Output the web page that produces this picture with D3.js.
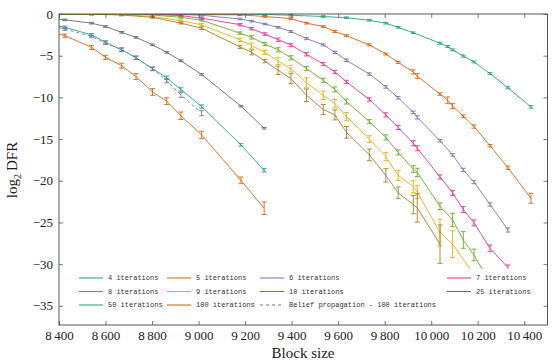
<!DOCTYPE html>
<html>
<head>
<meta charset="utf-8">
<script src="https://cdn.jsdelivr.net/npm/d3@7"></script>
<style>
body { margin: 0; background: #fff; }
</style>
</head>
<body>
<svg id="chart" width="552" height="363"></svg>
<script>
// block sizes used by the long-iteration runs (left group)
const xLeft = [8350, 8425, 8540, 8600, 8669, 8731, 8802, 8863, 8924, 9013, 9182, 9282];

const it4X = [8400, 9178, 9285, 9397, 9536, 9636, 9734, 9805, 9858, 9923, 10038, 10071, 10092, 10138, 10184, 10253, 10330, 10429];
const it4Y = [0, -0.02, -0.05, -0.15, -0.3, -0.45, -0.75, -1.1, -1.6, -2.25, -3.5, -3.9, -4.3, -5.05, -5.75, -7.15, -8.85, -11.15];
const it4Err = [null, 0.1, 0.1, 0.1, 0.1, 0.1, 0.1, 0.1, 0.1, 0.1, 0.12, 0.12, 0.12, 0.12, 0.12, 0.12, 0.12, 0.15];

const it5X = [8400, 9178, 9285, 9397, 9464, 9536, 9586, 9636, 9734, 9805, 9858, 9923, 9940, 10038, 10071, 10092, 10138, 10184, 10253, 10330, 10429];
const it5Y = [0, -0.1, -0.3, -0.55, -1.1, -1.5, -2.1, -2.6, -3.7, -4.8, -5.8, -6.95, -7.45, -9.6, -10.35, -11.05, -12.25, -13.5, -15.8, -18.45, -22.1];
const it5Err = [null, 0.1, 0.1, 0.1, 0.1, 0.1, 0.12, 0.12, 0.12, 0.12, 0.12, 0.25, 0.3, 0.15, 0.4, 0.3, 0.15, 0.2, 0.15, 0.2, 0.6];

const it6X = [8400, 8924, 9013, 9178, 9228, 9285, 9342, 9397, 9464, 9536, 9586, 9636, 9734, 9805, 9858, 9923, 9940, 10038, 10092, 10138, 10184, 10253, 10330];
const it6Y = [0, -0.05, -0.15, -0.6, -0.85, -1.2, -1.6, -2.1, -2.95, -3.7, -4.6, -5.55, -7.2, -8.75, -10.05, -11.8, -12.4, -15.2, -16.9, -18.7, -20.15, -22.85, -25.9];
const it6Err = [null, 0.1, 0.1, 0.1, 0.1, 0.1, 0.1, 0.12, 0.12, 0.12, 0.15, 0.15, 0.15, 0.15, 0.15, 0.15, 0.2, 0.15, 0.15, 0.2, 0.2, 0.2, 0.25];

const it7X = [8400, 8802, 8924, 9013, 9178, 9228, 9285, 9342, 9397, 9464, 9536, 9586, 9636, 9734, 9805, 9858, 9923, 9940, 10038, 10092, 10138, 10184, 10253, 10330];
const it7Y = [0, -0.05, -0.2, -0.5, -1.28, -1.76, -2.4, -3.08, -3.72, -4.83, -6.0, -6.95, -8.15, -10.25, -12.1, -13.6, -15.5, -16.1, -19.55, -21.45, -23.45, -25.05, -28.1, -30.4];
const it7Err = [null, 0.1, 0.1, 0.1, 0.15, 0.15, 0.15, 0.2, 0.2, 0.2, 0.2, 0.2, 0.2, 0.2, 0.25, 0.25, 0.3, 0.3, 0.25, 0.3, 0.35, 0.35, 0.4, 0.3];

const it8X = [8400, 8669, 8802, 8924, 9013, 9178, 9228, 9285, 9342, 9397, 9464, 9536, 9586, 9636, 9734, 9805, 9858, 9923, 9940, 10038, 10092, 10138, 10184, 10240];
const it8Y = [0, -0.02, -0.12, -0.4, -0.75, -2.3, -2.8, -3.6, -4.3, -5.25, -6.55, -7.95, -9.05, -10.5, -12.9, -14.8, -16.6, -18.6, -19.0, -23.05, -24.7, -27.1, -28.9, -31.6];
const it8Err = [null, 0.1, 0.1, 0.1, 0.1, 0.15, 0.2, 0.2, 0.25, 0.25, 0.25, 0.25, 0.3, 0.3, 0.25, 0.3, 0.3, 0.4, 0.5, 0.4, 0.8, 1.0, 0.7, null];

const it9X = [8400, 8540, 8669, 8802, 8924, 9013, 9178, 9228, 9285, 9342, 9397, 9464, 9536, 9586, 9636, 9734, 9805, 9858, 9923, 9940, 10038, 10092, 10190];
const it9Y = [0, -0.02, -0.08, -0.3, -0.8, -1.3, -3.1, -3.8, -4.6, -5.65, -6.55, -8.25, -9.75, -10.75, -12.3, -15.0, -17.1, -19.35, -20.7, -21.35, -26.2, -27.6, -31.5];
const it9Err = [null, 0.1, 0.1, 0.1, 0.1, 0.15, 0.2, 0.3, 0.25, 0.4, 0.4, 0.6, 0.5, 0.5, 0.5, 0.4, 0.5, 0.6, 0.7, 0.8, 1.6, 1.6, null];

const it10X = [8400, 8540, 8669, 8802, 8924, 9013, 9178, 9228, 9285, 9342, 9397, 9464, 9536, 9586, 9636, 9734, 9805, 9858, 9923, 9940, 10038];
const it10Y = [0, -0.03, -0.12, -0.4, -1.1, -1.7, -3.95, -4.6, -5.65, -6.75, -7.75, -9.75, -11.45, -12.1, -14.2, -16.9, -19.35, -21.45, -22.85, -23.25, -27.6];
const it10Err = [null, 0.1, 0.1, 0.1, 0.1, 0.15, 0.2, 0.3, 0.2, 0.5, 0.6, 0.75, 0.6, 0.6, 0.7, 0.7, 0.8, 0.7, 1.1, 1.7, 2.3];

const it25Y = [-0.45, -0.7, -1.1, -1.5, -2.2, -2.8, -3.7, -4.6, -5.6, -7.25, -11.05, -13.7];
const it25Err = [null, 0.1, 0.1, 0.1, 0.1, 0.1, 0.1, 0.1, 0.1, 0.1, 0.1, 0.1];

const it50Y = [-1.1, -1.6, -2.5, -3.4, -4.3, -5.25, -6.55, -7.65, -9.05, -11.1, -15.7, -18.75];
const it50Err = [null, 0.15, 0.15, 0.2, 0.2, 0.2, 0.2, 0.2, 0.2, 0.2, 0.15, 0.2];

const it100Y = [-2.0, -2.6, -4.0, -5.2, -6.2, -7.5, -9.35, -10.45, -12.2, -14.5, -19.95, -23.3];
const it100Err = [null, 0.2, 0.25, 0.25, 0.3, 0.35, 0.4, 0.4, 0.45, 0.45, 0.4, 0.75];

const bpX = [8350, 8425, 8540, 8600, 8669, 8731, 8802, 8863, 8924, 9013];
const bpY = [-1.3, -1.8, -2.7, -3.5, -4.25, -5.25, -6.6, -8.0, -9.7, -11.9];
const bpErr = [null, 0.15, 0.15, 0.15, 0.2, 0.2, 0.2, 0.25, 0.3, 0.3];

const labels = ["4 iterations", "5 iterations", "6 iterations", "7 iterations",
  "8 iterations", "9 iterations", "10 iterations", "25 iterations",
  "50 iterations", "100 iterations", "Belief propagation - 100 iterations"];
const colors = ["#1b9e77", "#d95f02", "#7570b3", "#e7298a", "#66a61e", "#e6ab02", "#a6761d", "#666666", "#1b9e77", "#d95f02", "#7570b3"];

const xTicks = [8400, 8600, 8800, 9000, 9200, 9400, 9600, 9800, 10000, 10200, 10400];
const yTicks = [0, -5, -10, -15, -20, -25, -30, -35];

function pts(xs, ys, es) {
  return xs.map((x, i) => ({ x: x, y: ys[i], e: es[i] }));
}

const series = [
  pts(it4X, it4Y, it4Err), pts(it5X, it5Y, it5Err), pts(it6X, it6Y, it6Err), pts(it7X, it7Y, it7Err),
  pts(it8X, it8Y, it8Err), pts(it9X, it9Y, it9Err), pts(it10X, it10Y, it10Err),
  pts(xLeft, it25Y, it25Err), pts(xLeft, it50Y, it50Err), pts(xLeft, it100Y, it100Err),
  pts(bpX, bpY, bpErr)
];

const pLeft = 59, pRight = 547.5, pTop = 14, pBottom = 325;
const x = d3.scaleLinear().domain([8400, 10500]).range([pLeft, pRight]);
const y = d3.scaleLinear().domain([-37.3, 0]).range([pBottom, pTop]);

const svg = d3.select("#chart");

svg.append("clipPath").attr("id", "clip")
  .append("rect").attr("x", pLeft).attr("y", pTop).attr("width", pRight - pLeft).attr("height", pBottom - pTop);

const plot = svg.append("g").attr("clip-path", "url(#clip)");
const line = d3.line().x(d => x(d.x)).y(d => y(d.y));

series.forEach((data, i) => {
  const g = plot.append("g").attr("stroke", colors[i]).attr("fill", "none").attr("stroke-width", 0.85);
  g.append("path").attr("d", line(data))
    .attr("stroke-dasharray", i === 10 ? "3,3" : null);
  // error bars with caps
  data.filter(d => d.e != null).forEach(d => {
    const cx = x(d.x), y1 = y(d.y + d.e), y2 = y(d.y - d.e);
    g.append("line").attr("x1", cx).attr("x2", cx).attr("y1", y1).attr("y2", y2);
    g.append("line").attr("x1", cx - 2.5).attr("x2", cx + 2.5).attr("y1", y1).attr("y2", y1);
    g.append("line").attr("x1", cx - 2.5).attr("x2", cx + 2.5).attr("y1", y2).attr("y2", y2);
  });
});

// legend (white box over the lower part)
const legend = svg.append("g");
legend.append("rect").attr("x", 70).attr("y", 269).attr("width", 470).attr("height", 45).attr("fill", "#fff");
const colLine = [79, 167, 260, 447];
const rowY = [278, 291.5, 305];
const slots = [[0, 0], [0, 1], [0, 2], [0, 3], [1, 0], [1, 1], [1, 2], [1, 3], [2, 0], [2, 1], [2, 2]];
labels.forEach((lab, i) => {
  const r = slots[i][0], c = slots[i][1];
  const lx = colLine[c], ly = rowY[r];
  legend.append("line").attr("x1", lx).attr("x2", lx + 24).attr("y1", ly).attr("y2", ly)
    .attr("stroke", colors[i]).attr("stroke-width", 1)
    .attr("stroke-dasharray", i === 10 ? "3,3" : null);
  legend.append("text").attr("x", lx + 29).attr("y", ly).attr("dy", "0.32em")
    .attr("font-family", "Liberation Mono").attr("font-size", 7).attr("fill", "#333")
    .text(lab);
});

// axes
const fmtX = d => { const s = String(d); return s.slice(0, -3) + "\u2009" + s.slice(-3); };
const fmtY = d => d === 0 ? "0" : "\u2212" + Math.abs(d);

const ax = svg.append("g").attr("transform", `translate(0,${pBottom})`)
  .call(d3.axisBottom(x).tickValues(xTicks).tickFormat(fmtX).tickSizeInner(-4).tickSizeOuter(0).tickPadding(6));
const ay = svg.append("g").attr("transform", `translate(${pLeft},0)`)
  .call(d3.axisLeft(y).tickValues(yTicks).tickFormat(fmtY).tickSizeInner(-4).tickSizeOuter(0).tickPadding(6));
const at = svg.append("g").attr("transform", `translate(0,${pTop})`)
  .call(d3.axisTop(x).tickValues(xTicks).tickFormat("").tickSizeInner(-4).tickSizeOuter(0));
const ar = svg.append("g").attr("transform", `translate(${pRight},0)`)
  .call(d3.axisRight(y).tickValues(yTicks).tickFormat("").tickSizeInner(-4).tickSizeOuter(0));

[ax, ay, at, ar].forEach(a => {
  a.select(".domain").remove();
  a.selectAll("line").attr("stroke", "#444").attr("stroke-width", 0.7);
  a.selectAll("text").attr("font-family", "Liberation Serif").attr("font-size", 13).attr("fill", "#222");
});

svg.append("rect").attr("x", pLeft).attr("y", pTop).attr("width", pRight - pLeft).attr("height", pBottom - pTop)
  .attr("fill", "none").attr("stroke", "#444").attr("stroke-width", 0.9);

svg.append("text").attr("x", 303).attr("y", 358).attr("text-anchor", "middle")
  .attr("font-family", "Liberation Serif").attr("font-size", 15).attr("fill", "#222")
  .text("Block size");

const yl = svg.append("text").attr("transform", "translate(17,170) rotate(-90)").attr("text-anchor", "middle")
  .attr("font-family", "Liberation Serif").attr("font-size", 15).attr("fill", "#222");
yl.append("tspan").text("log");
yl.append("tspan").attr("font-size", 10).attr("dy", 4).text("2");
yl.append("tspan").attr("dy", -4).text("\u2009DFR");
</script>
</body>
</html>
